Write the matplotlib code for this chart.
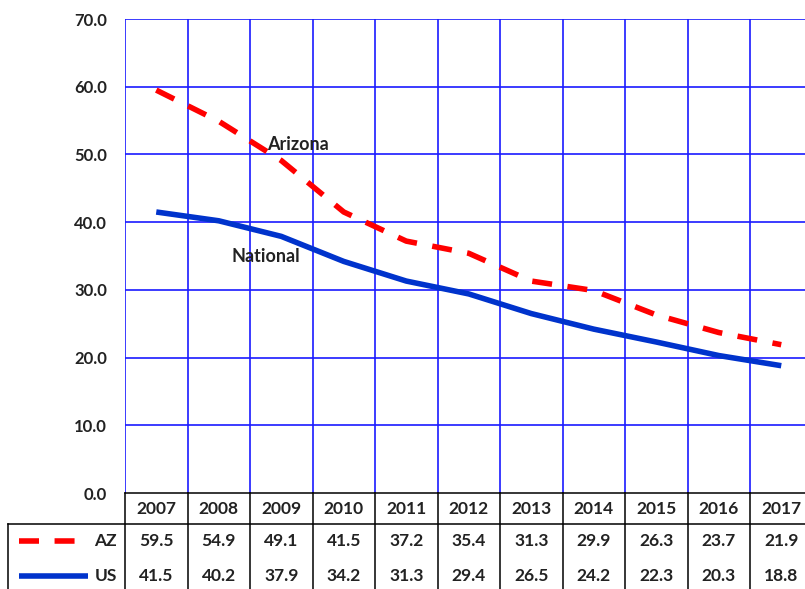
import numpy as np
import matplotlib
matplotlib.use('Agg')
from matplotlib import pyplot as plt

years = ['2007', '2008', '2009', '2010', '2011', '2012', '2013', '2014', '2015', '2016', '2017']
az = [59.5, 54.9, 49.1, 41.5, 37.2, 35.4, 31.3, 29.9, 26.3, 23.7, 21.9]
us = [41.5, 40.2, 37.9, 34.2, 31.3, 29.4, 26.5, 24.2, 22.3, 20.3, 18.8]
yticks = [0, 10, 20, 30, 40, 50, 60, 70]

plt.rcParams['font.family'] = ['Lato', 'DejaVu Sans']
plt.rcParams['font.weight'] = 'bold'
TXT = '#222222'
GRID = '#1a1aff'
RED = '#ff0000'
BLUE = '#0033cc'

W, H = 805, 589
fig = plt.figure(figsize=(W / 100, H / 100), dpi=100)

# plot area: 11 columns of 62.5 px, the last one runs past the right edge
left_px, col_px = 125, 62.5
bot_px, top_px = 493, 19
ax = fig.add_axes([left_px / W, (H - bot_px) / H, 11 * col_px / W, (bot_px - top_px) / H])
x = np.arange(len(years))
ax.set_xlim(-0.5, len(years) - 0.5)
ax.set_ylim(0, 70)

for k in range(len(years) + 1):
    ax.axvline(k - 0.5, color=GRID, lw=1.2, zorder=1)
for v in yticks[1:]:
    ax.axhline(v, color=GRID, lw=1.2, zorder=1)
for s in ax.spines.values():
    s.set_visible(False)

ax.plot(x, az, color=RED, lw=4.0, dashes=(3.6, 2.8), zorder=3)
ax.plot(x, us, color=BLUE, lw=4.0, solid_capstyle='butt', zorder=3)

ax.set_xticks([])
ax.set_yticks(yticks)
ax.set_yticklabels(['%.1f' % v for v in yticks], fontsize=12, color=TXT, fontweight='bold')
ax.tick_params(axis='y', length=0, pad=13)

ax.text(2.26, 51.5, 'Arizona', fontsize=13, color=TXT, ha='center', va='center', fontweight='bold')
ax.text(1.76, 35.0, 'National', fontsize=13, color=TXT, ha='center', va='center', fontweight='bold')

# data table underneath, sharing the column positions of the plot
tab = fig.add_axes([left_px / W, 0, 11 * col_px / W, (H - bot_px) / H], sharex=ax)
tab.set_ylim(H - bot_px, 0)
tab.axis('off')
lk = dict(color='black', lw=1.1, clip_on=False, solid_capstyle='projecting')
box_left = (8 - left_px) / col_px - 0.5
row1 = 31
tab.plot([-0.5, 10.5], [0, 0], **lk)
tab.plot([box_left, 10.5], [row1, row1], **lk)
tab.plot([box_left, box_left], [row1, H - bot_px + 5], **lk)
for k in range(len(years) + 1):
    tab.plot([k - 0.5, k - 0.5], [0, H - bot_px + 5], **lk)

fs = 12.5
for i, yr in enumerate(years):
    tab.text(i, 16, yr, ha='center', va='center', fontsize=fs, color=TXT, fontweight='bold')
    tab.text(i, 48, '%.1f' % az[i], ha='center', va='center', fontsize=fs, color=TXT, fontweight='bold')
    tab.text(i, 83, '%.1f' % us[i], ha='center', va='center', fontsize=fs, color=TXT, fontweight='bold')

# series keys in the left cell
kx0 = (19 - left_px) / col_px - 0.5
tab.plot([kx0, (77 - left_px) / col_px - 0.5], [48, 48], color=RED, lw=4.0, dashes=(3.6, 2.8), clip_on=False)
tab.plot([kx0, (88 - left_px) / col_px - 0.5], [83, 83], color=BLUE, lw=4.0, solid_capstyle='butt', clip_on=False)
lab_x = (117 - left_px) / col_px - 0.5
tab.text(lab_x, 48, 'AZ', ha='right', va='center', fontsize=fs, color=TXT, fontweight='bold')
tab.text(lab_x, 83, 'US', ha='right', va='center', fontsize=fs, color=TXT, fontweight='bold')

fig.savefig('out.png', dpi=100)
